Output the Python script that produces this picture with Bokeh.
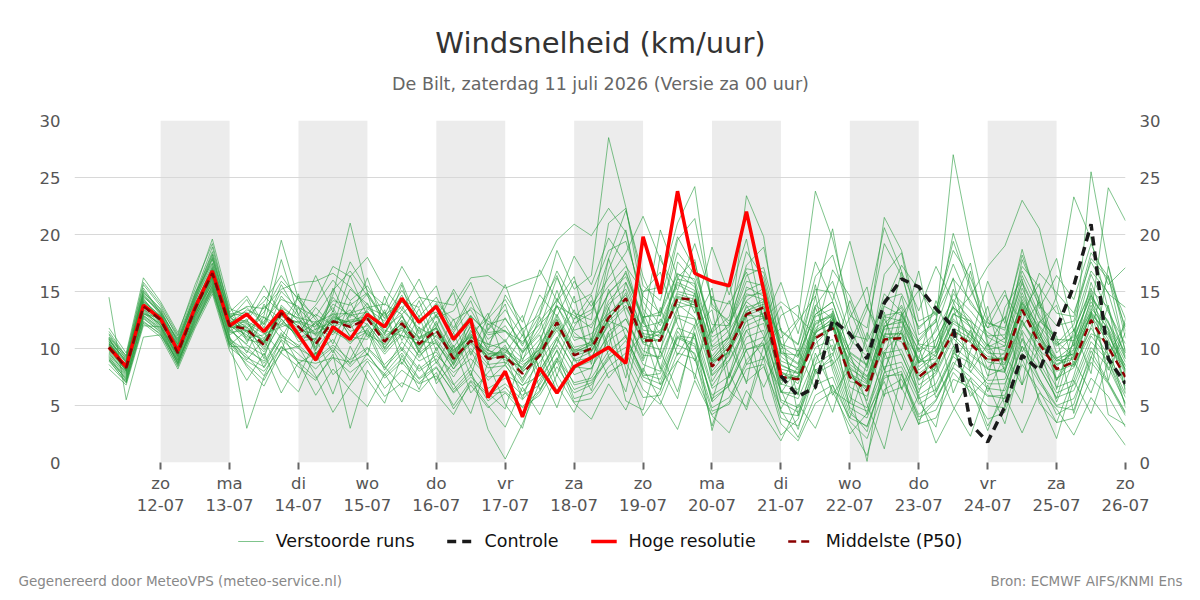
import pandas as pd
from bokeh.plotting import figure
from bokeh.layouts import column
from bokeh.models import (FixedTicker, LinearAxis, Range1d, BoxAnnotation,
                          Label, Legend, LegendItem)
from bokeh.embed import file_html
from bokeh.resources import INLINE

FONT = "DejaVu Sans"
GREEN = "#2a9d3f"

# 6-hourly forecast steps, starting Sat 11 July 2026 06 UTC
times = pd.date_range("2026-07-11 06:00", periods=60, freq="6h")

day_ticks = pd.date_range("2026-07-12", "2026-07-26", freq="D")
day_names = ["zo", "ma", "di", "wo", "do", "vr", "za", "zo",
             "ma", "di", "wo", "do", "vr", "za", "zo"]
y_ticks = [0, 5, 10, 15, 20, 25, 30]

# High resolution run (10 days)
hres = [10.1, 8.4, 13.8, 12.6, 9.8, 13.6, 16.8, 12.0, 13.0, 11.5,
        13.3, 11.2, 9.0, 11.9, 10.8, 13.0, 11.9, 14.4, 12.3, 13.7,
        10.8, 12.6, 5.7, 8.0, 4.0, 8.3, 6.1, 8.4, 9.2, 10.1,
        8.7, 19.8, 14.8, 23.8, 16.6, 15.9, 15.5, 22.0, 15.1, 7.6]

# Control run, shown after the high resolution run ends
control_start = 39
control = [7.6, 5.8, 6.6, 12.5, 11.3, 9.1, 14.0, 16.1, 15.4, 13.5,
           11.9, 3.4, 1.8, 4.9, 9.4, 8.1, 11.7, 15.5, 20.9, 9.1, 6.9]

# Ensemble median
p50 = [10.1, 8.3, 13.7, 12.5, 9.6, 13.5, 16.6, 12.0, 11.7, 10.3,
       13.1, 11.9, 10.4, 12.4, 11.9, 12.6, 10.6, 12.2, 10.4, 11.6,
       9.1, 10.7, 9.1, 9.3, 7.8, 9.4, 12.3, 9.4, 10.0, 12.7,
       14.4, 10.7, 10.7, 14.4, 14.3, 8.4, 10.0, 13.0, 13.6, 7.5,
       7.3, 10.9, 11.8, 7.5, 6.3, 10.8, 10.9, 7.5, 8.7, 11.4,
       10.4, 9.0, 9.0, 13.4, 10.4, 8.2, 8.8, 12.5, 10.1, 7.5]

# Perturbed ensemble members
run_01 = [11.2, 9.0, 15.1, 13.4, 10.5, 14.8, 18.9, 13.1, 12.8, 15.5, 13.0, 12.2,
          13.8, 16.0, 14.2, 15.5, 13.0, 15.8, 12.1, 14.0, 12.5, 13.4, 10.8, 12.0,
          9.6, 11.8, 16.2, 13.1, 12.5, 21.0, 22.3, 15.5, 14.2, 19.8, 17.0, 11.4,
          12.8, 18.5, 16.2, 9.8, 8.7, 14.5, 20.5, 12.0, 8.3, 16.5, 18.4, 11.2,
          12.3, 20.1, 15.6, 11.0, 10.2, 17.8, 14.3, 10.4, 12.1, 16.8, 14.9, 9.8]
run_02 = [9.0, 7.4, 12.6, 11.5, 8.8, 12.4, 15.3, 10.6, 9.4, 7.6, 10.8, 9.5,
          8.2, 9.9, 7.2, 9.6, 7.4, 8.8, 7.0, 8.3, 6.2, 7.8, 5.4, 6.6,
          4.8, 5.9, 8.4, 6.1, 6.8, 9.2, 10.1, 7.2, 6.4, 10.3, 9.6, 4.8,
          5.7, 8.6, 9.1, 3.9, 3.2, 6.8, 7.5, 3.6, 2.1, 6.4, 7.3, 4.0,
          4.6, 7.9, 6.2, 3.8, 4.4, 8.6, 6.3, 3.5, 3.9, 7.4, 5.8, 3.1]
run_03 = [10.5, 8.1, 14.2, 12.8, 9.9, 13.9, 17.2, 12.6, 14.3, 11.8, 15.6, 13.0,
          11.2, 14.5, 12.7, 16.2, 11.8, 13.0, 9.7, 12.4, 8.5, 11.6, 8.8, 10.3,
          7.2, 10.5, 15.1, 11.0, 10.8, 16.9, 20.4, 13.2, 9.6, 17.6, 15.8, 7.7,
          9.4, 15.4, 14.6, 6.2, 6.0, 12.8, 13.5, 8.1, 5.4, 12.2, 13.6, 8.8,
          9.1, 15.2, 11.8, 7.6, 8.3, 14.6, 11.5, 7.2, 9.4, 15.8, 11.7, 6.4]
run_04 = [11.8, 9.6, 16.2, 14.1, 11.4, 15.2, 19.6, 13.8, 10.6, 12.4, 14.3, 13.7,
          9.5, 11.6, 10.9, 13.5, 12.4, 14.7, 11.3, 12.9, 14.9, 9.4, 12.8, 15.6,
          11.4, 8.2, 14.1, 16.3, 10.6, 17.9, 13.0, 9.1, 18.2, 13.4, 7.3, 14.6,
          11.2, 6.9, 14.3, 10.5, 5.9, 13.6, 9.8, 12.7, 15.4, 8.1, 11.6, 16.8,
          9.6, 13.9, 17.5, 10.2, 12.8, 6.8, 14.6, 17.9, 11.5, 15.3, 9.4, 12.2]
run_05 = [9.5, 7.9, 13.2, 12.1, 9.1, 13.0, 16.1, 11.2, 12.1, 10.9, 12.4, 11.1,
          10.8, 13.1, 11.5, 12.0, 9.7, 11.8, 10.2, 12.9, 9.8, 11.4, 12.6, 14.3,
          11.7, 13.0, 18.6, 15.2, 16.4, 28.5, 22.4, 14.1, 12.0, 15.6, 14.8, 10.2,
          11.6, 14.1, 12.9, 8.6, 7.8, 10.4, 12.0, 8.9, 7.6, 9.8, 11.4, 9.2,
          8.0, 12.6, 11.1, 9.8, 8.7, 12.2, 10.4, 9.1, 8.4, 11.3, 10.6, 7.8]
run_06 = [8.2, 6.8, 12.0, 11.9, 8.6, 12.8, 15.4, 10.4, 9.2, 8.4, 11.4, 8.7,
          9.6, 10.8, 8.6, 11.4, 8.1, 10.6, 8.9, 9.7, 7.5, 9.8, 7.2, 8.6,
          6.2, 8.0, 10.8, 8.4, 8.2, 11.5, 12.6, 9.8, 9.1, 12.7, 12.0, 6.7,
          8.9, 11.6, 12.2, 6.1, 8.4, 13.7, 15.9, 11.2, 10.8, 21.5, 18.6, 12.4,
          13.2, 19.4, 15.2, 11.8, 12.6, 18.2, 14.1, 9.6, 11.2, 16.5, 13.2, 10.4]
run_07 = [10.8, 8.7, 14.6, 13.0, 10.2, 14.1, 17.8, 12.3, 11.0, 13.7, 12.6, 10.9,
          11.7, 12.3, 13.4, 11.2, 10.4, 12.9, 9.6, 10.8, 8.7, 12.1, 9.9, 9.0,
          8.4, 9.9, 12.8, 9.8, 10.6, 14.2, 15.8, 11.3, 11.1, 16.1, 15.7, 9.0,
          10.9, 14.2, 15.3, 8.0, 6.9, 11.3, 12.7, 6.6, 5.8, 10.5, 11.6, 6.8,
          7.9, 11.2, 9.6, 8.3, 9.7, 14.1, 10.9, 8.0, 8.6, 13.3, 10.8, 7.1]
run_08 = [9.8, 8.0, 13.5, 12.2, 9.3, 13.4, 16.4, 11.5, 12.6, 9.1, 13.8, 12.4,
          11.9, 13.6, 11.0, 10.8, 13.4, 8.6, 11.9, 6.9, 8.8, 12.9, 6.1, 4.7,
          9.6, 11.2, 6.8, 4.4, 7.9, 13.6, 8.2, 4.1, 6.3, 11.5, 9.4, 3.2,
          7.7, 12.8, 5.6, 2.4, 3.8, 8.7, 12.6, 4.6, 2.7, 7.9, 13.1, 5.4,
          3.1, 9.9, 6.6, 2.8, 6.7, 11.4, 5.2, 3.5, 7.6, 12.8, 4.2, 3.3]
run_09 = [9.3, 7.2, 12.9, 11.7, 8.9, 12.6, 15.8, 10.9, 8.4, 6.7, 9.8, 10.2,
          7.6, 4.4, 6.8, 8.9, 6.5, 8.1, 6.9, 7.6, 5.0, 7.2, 5.9, 6.9,
          5.5, 7.3, 9.8, 5.6, 6.1, 8.4, 9.6, 6.4, 5.1, 8.9, 7.8, 4.2,
          5.3, 9.0, 10.4, 4.6, 2.2, 5.9, 6.8, 3.9, 3.2, 7.4, 8.0, 3.7,
          5.4, 8.8, 7.5, 5.9, 5.6, 10.8, 7.4, 4.2, 5.1, 9.8, 7.1, 4.4]
run_10 = [10.3, 8.4, 14.0, 12.6, 9.7, 13.7, 16.9, 12.2, 13.4, 12.7, 12.0, 14.6,
          12.5, 11.4, 15.2, 13.9, 11.2, 14.2, 13.6, 15.5, 10.6, 12.8, 11.4, 11.6,
          9.8, 12.4, 14.2, 12.6, 13.4, 15.5, 17.2, 15.0, 15.4, 21.0, 24.2, 13.6,
          12.4, 17.0, 16.7, 10.4, 9.8, 13.8, 12.6, 9.4, 8.0, 12.8, 12.4, 9.9,
          11.5, 14.3, 12.6, 10.1, 10.9, 15.9, 12.7, 10.8, 10.7, 14.7, 12.2, 9.1]
run_11 = [10.0, 8.6, 13.6, 12.9, 10.0, 13.3, 16.6, 12.5, 11.4, 10.8, 14.6, 12.8,
          10.1, 12.9, 12.1, 14.0, 11.4, 13.4, 11.8, 11.0, 9.9, 11.0, 10.4, 9.9,
          8.8, 9.9, 13.7, 11.4, 10.2, 13.5, 16.8, 12.2, 10.9, 14.8, 14.3, 9.1,
          10.6, 13.6, 14.1, 10.9, 12.6, 23.8, 19.6, 13.4, 9.7, 14.8, 13.2, 8.4,
          9.6, 13.0, 12.4, 8.2, 7.9, 13.7, 11.2, 8.9, 9.9, 13.8, 11.1, 8.5]
run_12 = [11.0, 9.1, 15.0, 13.2, 10.7, 14.4, 18.2, 12.9, 10.9, 11.2, 13.0, 11.5,
          13.0, 12.0, 10.4, 12.2, 10.1, 11.9, 9.2, 11.2, 9.3, 10.5, 9.4, 10.8,
          8.0, 9.2, 11.9, 9.9, 9.8, 12.5, 14.9, 10.8, 11.6, 13.9, 12.7, 8.8,
          9.6, 13.2, 14.4, 8.9, 8.3, 12.1, 13.0, 7.8, 6.9, 11.8, 13.8, 10.6,
          12.4, 27.0, 19.2, 12.6, 10.8, 16.4, 13.0, 10.6, 9.3, 14.4, 12.4, 8.0]
run_13 = [10.6, 8.3, 14.4, 12.4, 9.5, 13.6, 16.8, 11.9, 11.8, 9.9, 12.9, 12.0,
          10.6, 12.6, 11.8, 12.9, 10.9, 12.5, 10.5, 11.9, 9.0, 10.9, 9.0, 9.5,
          7.9, 9.6, 12.2, 9.5, 10.1, 12.6, 14.4, 10.9, 10.6, 14.6, 14.1, 8.5,
          10.2, 13.1, 13.7, 7.5, 7.4, 10.9, 11.9, 7.6, 6.3, 10.9, 11.0, 7.6,
          8.8, 11.6, 10.5, 9.1, 9.1, 13.6, 10.6, 8.4, 9.8, 25.5, 17.3, 11.5]
run_14 = [9.9, 8.1, 13.9, 12.3, 9.8, 13.2, 16.3, 11.8, 12.2, 11.3, 11.9, 12.4,
          9.9, 11.9, 12.5, 12.8, 10.7, 11.6, 10.2, 11.4, 9.5, 11.3, 9.6, 9.2,
          8.3, 10.4, 12.6, 9.0, 9.7, 12.0, 13.6, 10.6, 11.3, 14.1, 13.6, 8.0,
          9.9, 12.9, 12.8, 7.2, 7.6, 11.4, 12.3, 7.1, 6.7, 11.1, 10.6, 7.2,
          8.5, 12.9, 14.6, 17.2, 19.0, 23.0, 20.5, 14.2, 10.2, 12.9, 10.5, 8.2]
run_15 = [10.2, 8.5, 13.8, 12.7, 9.6, 13.5, 16.5, 12.1, 10.8, 10.4, 13.4, 11.6,
          11.3, 12.2, 12.4, 12.5, 11.1, 12.1, 10.8, 11.7, 9.2, 10.6, 9.3, 9.6,
          11.8, 6.4, 8.9, 12.6, 14.7, 9.3, 6.2, 12.8, 8.4, 5.6, 11.9, 13.4,
          6.3, 4.9, 10.2, 11.8, 4.1, 9.6, 6.3, 5.2, 11.4, 8.2, 4.6, 10.8,
          12.6, 6.1, 9.8, 13.7, 7.9, 5.2, 12.4, 11.1, 4.3, 9.2, 13.8, 6.1]
run_16 = [8.9, 7.1, 12.3, 11.3, 8.4, 12.2, 15.0, 10.1, 8.9, 8.0, 10.1, 9.0,
          8.7, 9.2, 7.9, 9.1, 7.8, 9.6, 7.4, 8.8, 6.8, 8.4, 6.5, 7.4,
          5.9, 6.8, 9.2, 7.0, 7.4, 9.8, 11.0, 7.8, 7.3, 11.0, 10.4, 5.6,
          6.7, 9.9, 10.5, 5.3, 4.4, 8.1, 9.0, 4.8, 3.9, 7.9, 8.4, 5.1,
          6.1, 9.3, 8.0, 6.5, 6.3, 10.2, 8.3, 5.7, 6.3, 10.1, 8.4, 5.2]
run_17 = [11.5, 9.3, 15.6, 13.7, 10.9, 14.6, 18.5, 13.5, 12.9, 14.1, 16.4, 14.2,
          12.8, 15.1, 16.8, 14.6, 12.7, 15.1, 12.8, 14.5, 11.8, 14.6, 12.1, 12.6,
          10.4, 12.9, 16.8, 14.0, 14.8, 18.6, 19.4, 14.6, 13.1, 18.4, 16.5, 12.1,
          12.0, 16.4, 17.1, 11.5, 10.3, 15.2, 14.9, 10.8, 9.3, 14.3, 14.8, 11.9,
          13.1, 17.4, 13.9, 12.2, 11.8, 16.8, 13.8, 12.0, 12.4, 17.9, 16.1, 11.9]
run_18 = [10.4, 8.3, 13.4, 12.5, 9.4, 13.7, 16.7, 12.0, 11.2, 9.7, 12.2, 11.3,
          12.2, 11.2, 13.0, 12.1, 10.3, 12.0, 10.0, 11.5, 8.9, 10.4, 8.6, 8.8,
          7.4, 9.3, 11.6, 8.9, 9.2, 12.2, 7.4, 14.9, 16.7, 12.1, 8.9, 11.7,
          14.2, 9.8, 6.6, 9.9, 12.4, 14.6, 8.1, 3.9, 8.8, 13.2, 6.4, 9.1,
          14.2, 10.3, 5.8, 7.4, 13.6, 16.1, 8.4, 5.6, 10.8, 14.9, 7.2, 12.6]
run_19 = [10.7, 8.9, 14.9, 13.5, 11.1, 14.9, 17.5, 12.7, 13.7, 13.5, 15.2, 15.8,
          15.9, 16.6, 15.4, 13.6, 12.9, 14.1, 12.6, 13.2, 11.4, 13.6, 12.4, 11.5,
          10.6, 12.1, 13.7, 12.9, 11.8, 14.9, 16.3, 12.7, 13.2, 16.6, 15.4, 11.0,
          11.9, 15.9, 15.5, 10.2, 9.2, 13.0, 14.1, 9.7, 8.6, 13.7, 12.9, 10.4,
          10.1, 14.8, 13.3, 11.4, 10.5, 15.3, 12.0, 10.2, 11.6, 15.1, 13.6, 9.3]
run_20 = [14.5, 5.5, 11.0, 11.2, 9.0, 12.0, 15.6, 10.2, 10.1, 8.7, 11.0, 10.0,
          9.1, 10.3, 9.0, 10.1, 8.6, 10.1, 8.2, 9.4, 7.9, 9.1, 7.5, 7.7,
          6.8, 7.6, 10.3, 7.7, 8.3, 10.7, 11.8, 8.6, 8.0, 11.8, 11.2, 6.5,
          7.6, 11.0, 11.6, 6.2, 5.6, 9.2, 10.3, 5.7, 4.8, 9.1, 9.5, 5.9,
          6.9, 10.2, 8.9, 7.2, 7.3, 11.6, 9.3, 6.6, 7.2, 11.1, 9.2, 6.0]
run_21 = [10.0, 8.0, 13.3, 12.0, 9.2, 12.9, 16.0, 11.4, 11.6, 10.1, 13.2, 10.6,
          10.9, 13.3, 11.1, 11.6, 10.0, 12.4, 9.9, 12.2, 9.6, 11.9, 9.1, 10.1,
          8.1, 10.1, 13.0, 10.1, 10.5, 13.9, 15.2, 11.6, 11.4, 15.0, 14.6, 9.3,
          11.2, 23.4, 19.8, 9.3, 8.1, 12.2, 13.1, 8.4, 7.0, 11.7, 11.9, 8.1,
          9.4, 12.4, 11.4, 9.6, 9.5, 14.3, 11.2, 8.6, 9.1, 13.1, 11.4, 8.1]
run_22 = [10.9, 8.8, 14.8, 13.1, 10.4, 14.3, 18.0, 12.8, 11.5, 12.9, 19.5, 14.3,
          11.6, 14.7, 21.0, 14.9, 12.1, 13.7, 11.5, 13.0, 10.1, 12.3, 10.1, 10.6,
          9.1, 10.8, 13.8, 10.7, 11.3, 13.1, 14.1, 11.9, 12.3, 15.8, 15.1, 9.8,
          11.0, 14.6, 14.9, 9.6, 8.6, 12.4, 12.8, 8.6, 7.5, 11.9, 12.6, 8.7,
          10.2, 13.6, 12.0, 9.9, 10.2, 14.9, 11.5, 9.1, 10.3, 14.1, 11.6, 8.4]
run_23 = [9.6, 7.7, 13.1, 11.9, 9.0, 12.7, 15.9, 11.1, 3.0, 7.5, 9.6, 8.4,
          7.2, 9.5, 3.0, 8.1, 5.8, 7.0, 6.2, 7.9, 4.7, 6.8, 4.8, 6.1,
          4.4, 6.2, 8.9, 5.3, 5.6, 7.9, 8.8, 5.7, 5.9, 9.6, 9.1, 4.5,
          5.1, 8.2, 8.6, 3.4, 1.9, 5.2, 6.2, 3.2, 0.6, 6.0, 6.6, 3.4,
          3.9, 7.3, 6.6, 5.0, 4.8, 9.6, 7.0, 4.9, 4.6, 8.8, 6.9, 4.1]
run_24 = [10.1, 8.2, 13.7, 12.3, 9.7, 13.8, 16.9, 12.4, 12.4, 11.5, 12.8, 12.3,
          11.4, 13.9, 12.9, 13.2, 11.6, 11.1, 10.7, 10.4, 8.6, 11.0, 9.8, 9.4,
          7.0, 9.9, 11.8, 9.6, 10.4, 12.4, 13.8, 10.4, 9.9, 13.6, 13.9, 8.9,
          9.7, 12.4, 13.1, 7.8, 7.3, 11.5, 12.2, 7.7, 6.6, 11.3, 11.3, 7.3,
          8.3, 11.8, 10.9, 8.8, 8.6, 12.5, 9.8, 8.6, 9.6, 12.9, 24.1, 21.2]
run_25 = [10.4, 8.5, 14.1, 12.9, 10.1, 13.1, 17.0, 12.3, 11.6, 10.6, 13.5, 11.8,
          10.4, 12.7, 12.3, 12.6, 10.6, 12.8, 10.9, 11.8, 9.7, 11.1, 9.5, 9.7,
          8.6, 9.4, 12.1, 9.4, 9.8, 12.6, 14.3, 10.5, 10.8, 14.4, 13.8, 8.7,
          10.2, 12.9, 13.5, 7.9, 7.5, 11.1, 11.8, 7.5, 6.5, 11.2, 11.3, 7.8,
          8.9, 11.6, 10.6, 9.3, 9.0, 13.4, 10.8, 14.6, 23.3, 19.6, 13.4, 9.1]
run_26 = [9.7, 7.8, 13.4, 12.0, 9.4, 13.3, 16.2, 11.7, 10.3, 9.4, 12.6, 10.9,
          9.4, 11.5, 10.6, 11.5, 9.5, 11.2, 9.4, 10.6, 8.2, 10.0, 8.3, 8.5,
          6.7, 8.8, 11.0, 8.3, 8.9, 11.1, 12.6, 9.4, 9.3, 12.9, 12.6, 7.6,
          9.0, 12.0, 12.7, 6.9, 6.4, 10.1, 10.8, 6.2, 0.1, 9.6, 9.9, 6.4,
          7.7, 10.9, 9.4, 8.2, 8.0, 12.4, 9.6, 7.4, 8.3, 11.8, 9.4, 6.7]
run_27 = [10.3, 8.6, 14.3, 12.7, 9.9, 13.8, 17.1, 12.2, 12.3, 10.5, 13.6, 12.6,
          11.1, 12.8, 12.0, 13.3, 10.8, 12.2, 11.0, 11.8, 9.4, 11.2, 9.2, 9.9,
          8.2, 9.7, 12.5, 9.7, 10.3, 13.0, 14.7, 11.1, 10.7, 14.5, 14.0, 8.9,
          10.4, 13.3, 13.9, 8.2, 7.8, 11.6, 12.5, 9.9, 13.4, 20.6, 16.8, 10.3,
          9.3, 12.2, 11.2, 9.0, 9.2, 13.9, 10.9, 8.9, 9.2, 13.0, 11.3, 7.9]
run_28 = [9.2, 7.5, 12.8, 11.6, 8.7, 12.5, 15.5, 10.8, 9.8, 8.9, 11.2, 10.3,
          8.9, 10.1, 8.4, 10.0, 8.3, 9.9, 8.0, 9.1, 6.4, 8.1, 2.9, 0.3,
          3.4, 7.0, 9.9, 6.8, 7.2, 9.0, 10.7, 7.5, 6.9, 10.9, 10.2, 5.9,
          6.9, 10.4, 11.0, 5.5, 4.8, 8.6, 9.6, 5.2, 4.5, 8.4, 8.8, 5.6,
          6.4, 9.6, 8.7, 6.9, 6.9, 10.9, 8.8, 6.1, 6.8, 10.6, 8.9, 5.7]
run_29 = [10.6, 8.4, 14.1, 12.6, 9.8, 13.5, 16.7, 12.1, 11.9, 10.5, 13.3, 12.7,
          12.3, 13.0, 13.1, 13.6, 13.9, 13.0, 14.5, 14.1, 13.8, 16.2, 16.4, 15.3,
          15.9, 16.4, 19.5, 20.9, 19.9, 22.3, 20.2, 13.5, 11.3, 16.2, 17.8, 10.1,
          10.9, 14.8, 14.3, 8.5, 7.9, 11.8, 12.9, 8.2, 7.3, 12.0, 12.3, 8.9,
          9.8, 13.1, 11.9, 10.3, 9.8, 14.0, 11.9, 9.2, 9.5, 13.5, 11.8, 8.8]
run_30 = [10.2, 8.3, 13.9, 12.6, 9.6, 13.4, 16.5, 12.0, 9.6, 12.8, 10.9, 13.6,
          12.8, 10.4, 14.1, 11.0, 13.2, 9.8, 12.9, 8.7, 11.4, 7.6, 12.2, 10.6,
          12.9, 8.1, 10.4, 14.6, 8.6, 15.2, 11.0, 7.9, 13.6, 9.4, 12.1, 15.3,
          7.4, 11.6, 9.1, 12.9, 13.8, 7.9, 9.4, 14.2, 10.1, 5.8, 12.9, 15.1,
          6.2, 9.4, 16.8, 10.6, 4.9, 13.2, 15.7, 6.4, 11.7, 7.8, 17.2, 10.9]
run_31 = [11.0, 9.4, 15.8, 13.9, 11.2, 15.6, 19.2, 13.2, 14.6, 12.1, 17.8, 12.9,
          16.4, 13.2, 17.6, 15.1, 13.8, 17.2, 14.6, 11.9, 15.2, 12.6, 9.8, 14.7,
          12.3, 16.9, 14.2, 18.1, 15.6, 19.7, 17.4, 12.2, 20.4, 16.3, 13.1, 18.9,
          14.7, 19.6, 12.4, 15.8, 11.3, 17.6, 14.2, 19.4, 13.6, 10.9, 16.7, 13.3,
          17.2, 14.1, 10.6, 15.9, 12.2, 18.7, 13.5, 16.4, 14.3, 19.2, 15.6, 17.1]
run_32 = [8.6, 7.0, 12.2, 11.0, 8.2, 11.8, 14.8, 9.8, 7.2, 9.6, 6.1, 8.8,
          5.9, 8.2, 6.4, 4.9, 7.8, 5.3, 8.6, 6.0, 4.2, 7.1, 5.0, 3.1,
          6.6, 4.2, 7.7, 5.2, 3.8, 6.9, 4.6, 8.3, 5.4, 2.9, 7.2, 4.1,
          2.6, 6.3, 4.2, 1.9, 5.1, 3.0, 6.8, 2.5, 4.3, 7.1, 2.8, 5.9,
          1.7, 4.6, 7.4, 3.2, 5.8, 2.6, 6.1, 4.7, 2.4, 5.7, 3.6, 1.5]
run_33 = [10.9, 8.2, 13.1, 12.2, 10.4, 12.9, 16.2, 12.8, 13.2, 11.4, 9.6, 14.8,
          9.8, 15.3, 12.2, 9.4, 14.6, 10.7, 13.5, 9.8, 12.6, 8.4, 11.7, 13.9,
          8.9, 12.8, 7.6, 11.9, 14.2, 10.1, 15.8, 12.6, 8.2, 13.4, 17.6, 11.3,
          15.8, 8.6, 10.8, 13.7, 9.3, 15.6, 8.6, 10.4, 13.9, 9.2, 14.6, 8.7,
          11.8, 16.2, 8.3, 12.6, 15.1, 9.7, 12.3, 13.8, 8.5, 11.9, 16.4, 9.6]
run_34 = [9.4, 7.6, 12.9, 11.8, 9.3, 13.1, 15.7, 11.0, 9.0, 10.8, 7.7, 6.2,
          9.7, 6.0, 10.2, 7.3, 5.2, 9.4, 6.4, 10.1, 6.9, 4.3, 8.8, 5.1,
          3.0, 8.2, 4.8, 9.2, 6.3, 11.4, 5.4, 4.6, 9.8, 6.2, 11.4, 2.8,
          7.9, 4.6, 9.3, 6.4, 2.9, 8.2, 4.4, 9.6, 5.1, 1.2, 7.8, 3.3,
          8.6, 4.9, 2.3, 6.8, 3.4, 9.1, 5.6, 2.1, 7.2, 4.3, 8.9, 5.1]
run_35 = [10.8, 8.9, 14.5, 13.3, 10.6, 14.2, 17.4, 12.6, 12.4, 14.6, 13.1, 11.2,
          13.6, 11.9, 16.4, 12.8, 11.3, 15.6, 10.8, 13.9, 11.6, 14.2, 10.3, 12.7,
          10.2, 13.6, 16.4, 12.2, 13.1, 17.9, 22.1, 16.3, 12.8, 19.5, 21.4, 13.9,
          12.1, 17.3, 18.9, 11.6, 10.4, 16.3, 18.2, 12.9, 11.8, 19.2, 16.4, 11.7,
          13.4, 18.6, 16.2, 12.3, 11.6, 17.2, 15.4, 13.1, 12.8, 18.4, 16.3, 12.6]
run_36 = [10.0, 8.1, 13.0, 12.7, 9.9, 14.0, 16.3, 11.6, 10.4, 13.9, 11.6, 10.1,
          12.4, 9.6, 13.1, 14.8, 9.9, 11.3, 14.2, 10.5, 8.2, 10.9, 13.1, 8.6,
          11.2, 7.6, 10.9, 13.4, 9.1, 12.4, 11.8, 8.9, 12.6, 10.2, 14.9, 7.1,
          9.6, 13.8, 11.1, 6.8, 9.9, 6.4, 13.3, 9.2, 7.1, 12.6, 9.4, 6.1,
          10.8, 13.7, 7.9, 10.4, 8.1, 11.9, 14.1, 7.2, 10.6, 13.2, 8.1, 11.4]
run_37 = [11.3, 9.2, 15.3, 13.1, 10.8, 14.7, 18.3, 13.0, 11.8, 13.2, 15.9, 14.4,
          14.1, 17.2, 16.3, 18.0, 15.2, 13.4, 16.1, 12.7, 13.3, 15.8, 11.6, 13.4,
          11.1, 14.7, 12.8, 15.9, 13.7, 16.2, 18.4, 21.6, 17.8, 15.1, 19.2, 14.3,
          13.9, 16.7, 12.6, 14.1, 12.8, 11.2, 16.9, 14.6, 10.6, 13.8, 17.3, 15.2,
          12.9, 16.1, 14.2, 11.8, 14.7, 12.3, 16.6, 14.9, 13.1, 17.6, 14.8, 13.6]
run_38 = [9.1, 7.3, 12.7, 11.4, 8.7, 12.3, 15.2, 10.3, 11.6, 8.3, 10.7, 7.4,
          10.9, 7.7, 9.1, 11.8, 8.4, 6.6, 9.9, 7.2, 10.3, 6.1, 7.9, 9.4,
          5.6, 9.7, 6.3, 8.1, 10.9, 7.4, 9.3, 11.4, 6.8, 8.9, 11.2, 5.4,
          10.2, 7.1, 8.4, 4.7, 7.6, 11.1, 5.9, 8.3, 4.2, 9.7, 6.5, 10.1,
          5.7, 8.4, 11.6, 6.2, 9.4, 6.8, 10.2, 5.3, 8.9, 6.1, 10.4, 4.8]
run_39 = [10.4, 8.8, 14.7, 13.0, 10.3, 14.5, 17.9, 12.9, 13.6, 12.1, 15.0, 13.5,
          12.0, 14.2, 13.8, 14.9, 12.6, 14.1, 12.3, 13.8, 11.0, 12.9, 11.2, 11.5,
          9.7, 11.4, 14.4, 11.6, 12.1, 14.8, 16.6, 12.8, 12.9, 16.5, 16.1, 10.6,
          12.2, 15.1, 15.8, 9.6, 9.4, 13.0, 14.1, 9.6, 8.5, 12.9, 13.2, 9.7,
          10.8, 13.6, 12.4, 11.1, 11.2, 15.7, 12.6, 10.3, 11.0, 14.6, 12.3, 9.6]
run_40 = [9.0, 7.0, 12.4, 11.2, 8.5, 12.0, 15.1, 10.5, 8.6, 7.2, 10.2, 8.8,
          7.4, 9.2, 8.8, 9.5, 7.6, 9.1, 7.3, 8.4, 6.1, 7.5, 6.0, 6.2,
          4.9, 6.3, 9.1, 6.4, 7.0, 9.4, 11.2, 7.6, 7.8, 11.1, 10.9, 5.3,
          6.8, 9.9, 10.3, 4.4, 4.1, 7.8, 8.6, 4.3, 3.1, 7.6, 7.7, 4.2,
          5.5, 8.3, 7.1, 5.8, 5.9, 10.2, 7.3, 5.0, 5.6, 9.3, 7.0, 4.3]

members = [run_01, run_02, run_03, run_04, run_05, run_06, run_07, run_08,
           run_09, run_10, run_11, run_12, run_13, run_14, run_15, run_16,
           run_17, run_18, run_19, run_20, run_21, run_22, run_23, run_24,
           run_25, run_26, run_27, run_28, run_29, run_30, run_31, run_32,
           run_33, run_34, run_35, run_36, run_37, run_38, run_39, run_40]


def ms(ts):
    return int(pd.Timestamp(ts).value // 10**6)


tick_ms = [ms(t) for t in day_ticks]
tick_labels = {m: f"{n}\n{t:%d-%m}" for m, n, t in zip(tick_ms, day_names, day_ticks)}


def blank_panel(height):
    f = figure(width=1200, height=height, output_backend="svg",
               toolbar_location=None, x_range=Range1d(0, 1200),
               y_range=Range1d(0, height), min_border=0, frame_align=False,
               x_axis_location=None, y_axis_location=None)
    f.grid.visible = False
    f.outline_line_color = None
    f.background_fill_color = "white"
    f.border_fill_color = "white"
    return f


def panel_text(f, x, y, text, size, color, align="center"):
    f.add_layout(Label(x=x, y=y, text=text, text_align=align,
                       text_baseline="middle", text_font=FONT,
                       text_font_size=size, text_color=color))


# ---- header ----
head = blank_panel(100)
panel_text(head, 600, 58, "Windsnelheid (km/uur)", "29px", "#333333")
panel_text(head, 600, 17, "De Bilt, zaterdag 11 juli 2026 (Versie za 00 uur)",
           "17.5px", "#666666")

# ---- main chart ----
p = figure(width=1200, height=420, output_backend="svg", toolbar_location=None,
           x_axis_type="datetime", frame_align=False,
           x_range=Range1d(ms("2026-07-10 18:00"), ms("2026-07-26 00:00")),
           y_range=Range1d(0, 30),
           min_border_left=74, min_border_right=75,
           min_border_top=20, min_border_bottom=58)
p.outline_line_color = None
p.background_fill_color = "white"
p.border_fill_color = "white"

# alternating day shading, painted beneath the grid lines
bands = []
for i in range(0, 14, 2):
    bands.append(BoxAnnotation(left=tick_ms[i], right=tick_ms[i + 1],
                               fill_color="#ececec", fill_alpha=1.0,
                               line_color=None, level="underlay"))
for b in bands:
    p.add_layout(b)
p.center = bands + [r for r in p.center if r not in bands]

p.xgrid.grid_line_color = None
p.ygrid.ticker = FixedTicker(ticks=y_ticks)
p.ygrid.grid_line_color = "#d8d8d8"
p.ygrid.grid_line_width = 1

xa = p.xaxis[0]
xa.ticker = FixedTicker(ticks=tick_ms)
xa.major_label_overrides = tick_labels
xa.axis_line_color = None
xa.major_tick_line_color = "#666666"
xa.major_tick_line_width = 2
xa.major_tick_out = 7
xa.major_tick_in = 0
xa.minor_tick_line_color = None
xa.major_label_standoff = 4
xa.major_label_text_font = FONT
xa.major_label_text_font_size = "16.5px"
xa.major_label_text_color = "#555555"

ya = p.yaxis[0]
ra = LinearAxis()
p.add_layout(ra, "right")
for ax in (ya, ra):
    ax.ticker = FixedTicker(ticks=y_ticks)
    ax.axis_line_color = None
    ax.major_tick_line_color = None
    ax.minor_tick_line_color = None
    ax.major_label_standoff = 8
    ax.major_label_text_font = FONT
    ax.major_label_text_font_size = "16.5px"
    ax.major_label_text_color = "#555555"

MEMBER_STYLE = dict(line_color=GREEN, line_alpha=0.6, line_width=1)
HRES_STYLE = dict(line_color="#ff0000", line_width=3.5)
P50_STYLE = dict(line_color="#8b0000", line_width=2.5, line_dash="8 5")
CTRL_STYLE = dict(line_color="#1a1a1a", line_width=3.5, line_dash="9 6")

xs = [list(times[:len(run)]) for run in members]
p.multi_line(xs=xs, ys=members, **MEMBER_STYLE)
p.line(times[:len(hres)], hres, **HRES_STYLE)
p.line(times[:len(p50)], p50, **P50_STYLE)
p.line(times[control_start:control_start + len(control)], control, **CTRL_STYLE)

# ---- legend and footer ----
foot = blank_panel(80)
# off-screen stand-ins so the legend can show each line style
off_x, off_y = [-50, -40], [-50, -50]
k_members = foot.line(off_x, off_y, **MEMBER_STYLE)
k_ctrl = foot.line(off_x, off_y, **CTRL_STYLE)
k_hres = foot.line(off_x, off_y, **HRES_STYLE)
k_p50 = foot.line(off_x, off_y, **P50_STYLE)
legend = Legend(items=[LegendItem(label="Verstoorde runs", renderers=[k_members]),
                       LegendItem(label="Controle", renderers=[k_ctrl]),
                       LegendItem(label="Hoge resolutie", renderers=[k_hres]),
                       LegendItem(label="Middelste (P50)", renderers=[k_p50])],
                orientation="horizontal", location="top_center",
                padding=0, margin=11, spacing=32, label_standoff=12,
                glyph_width=26, glyph_height=20, label_height=20,
                border_line_color=None, background_fill_alpha=0,
                label_text_font=FONT, label_text_font_size="17.5px",
                label_text_color="#111111")
foot.add_layout(legend)
panel_text(foot, 18, 20, "Gegenereerd door MeteoVPS (meteo-service.nl)",
           "13.5px", "#888888", "left")
panel_text(foot, 1182, 20, "Bron: ECMWF AIFS/KNMI Ens", "13.5px", "#888888", "right")

layout = column(head, p, foot, spacing=0)
open("out.html", "w").write(file_html(layout, INLINE))
